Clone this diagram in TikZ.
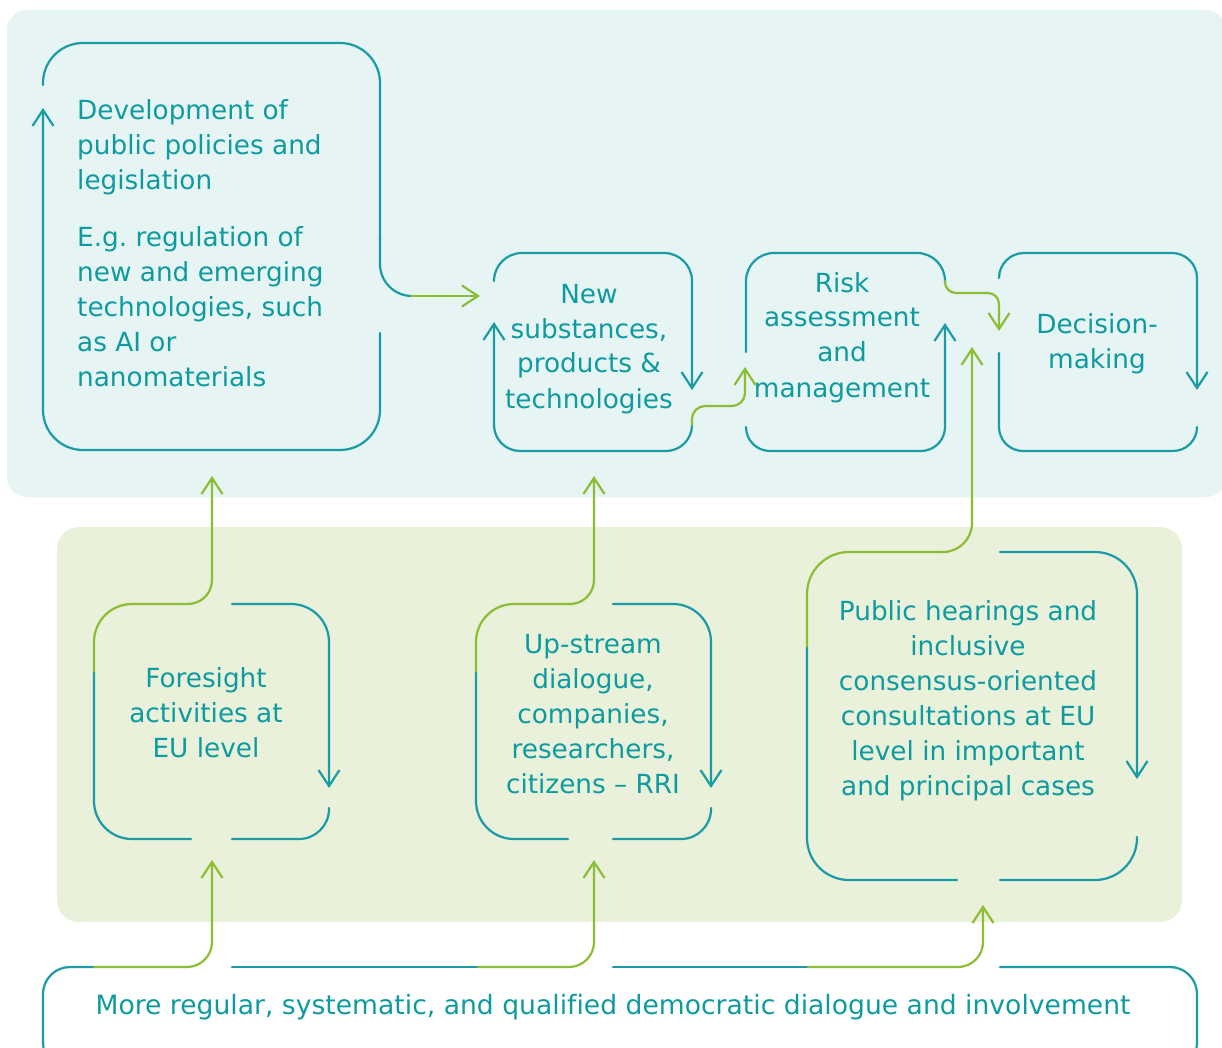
\documentclass[tikz,border=0pt]{standalone}
\usepackage{fontspec}
\setmainfont{DejaVu Sans}[Ligatures=NoCommon]
\usetikzlibrary{arrows.meta}
\definecolor{tl}{HTML}{1A9BA6}
\definecolor{tltext}{HTML}{0E9BA0}
\definecolor{gr}{HTML}{8BBE34}
\definecolor{bgblue}{HTML}{E6F4F4}
\definecolor{bggreen}{HTML}{E9F1DA}
\newcommand{\txtblock}[2]{\begin{tabular}[t]{@{}#1@{}}#2\end{tabular}}
\frenchspacing
\begin{document}
\begin{tikzpicture}[x=1pt,y=-1pt,
  ln/.style={line width=2.2pt, line cap=round},
  tealln/.style={ln, draw=tl},
  greenln/.style={ln, draw=gr},
  tip/.style={-{Straight Barb[length=16pt,width=21pt]}},
  txt/.style={text=tltext, font=\fontsize{26.3}{35}\selectfont, inner sep=0pt},
]
\useasboundingbox (0,0) rectangle (1222,1048);
\clip (0,0) rectangle (1222,1048);
\fill[white] (0,0) rectangle (1222,1048);
% backgrounds
\fill[bgblue, rounded corners=20pt] (7,10) rectangle (1226,497);
\fill[bggreen, rounded corners=22pt] (57,527) rectangle (1182,922);

% texts
\node[txt, anchor=base west] (dev) at (77,120) {\txtblock{l}{Development of\\public policies and\\legislation}};
\node[txt, anchor=base west] (eg) at (77,247) {\txtblock{l}{E.g. regulation of\\new and emerging\\technologies, such\\as AI or\\nanomaterials}};
\node[txt, anchor=base] (new) at (589,303) {\txtblock{c}{New\\substances,\\products \&\\technologies}};
\node[txt, anchor=base] (risk) at (842,292) {\txtblock{c}{Risk\\assessment\\and\\management}};
\node[txt, anchor=base] (dec) at (1097,333) {\txtblock{c}{Decision-\\making}};
\node[txt, anchor=base] (fore) at (206,687) {\txtblock{c}{Foresight\\activities at\\EU level}};
\node[txt, anchor=base] (up) at (593,653) {\txtblock{c}{Up-stream\\dialogue,\\companies,\\researchers,\\citizens – RRI}};
\node[txt, anchor=base] (pub) at (968,620) {\txtblock{c}{Public hearings and\\inclusive\\consensus-oriented\\consultations at EU\\level in important\\and principal cases}};
\node[txt, anchor=base, font=\fontsize{26.6}{32}\selectfont] (more) at (613,1014) {More regular, systematic, and qualified democratic dialogue and involvement};

% Box 1
\draw[tealln, rounded corners=40pt] (43,85) -- (43,43) -- (380,43) -- (380,240);
\draw[tealln, rounded corners=32pt] (380,238) -- (380,296) -- (412,296);
\draw[greenln, tip] (411,296) -- (480,296);
\draw[tealln, tip, rounded corners=40pt] (380,333) -- (380,450) -- (43,450) -- (43,108);

% Box 2
\draw[tealln, tip, rounded corners=28pt] (494,281) -- (494,253) -- (692,253) -- (692,390);
\draw[tealln, tip, rounded corners=26pt] (692,425) -- (692,451) -- (494,451) -- (494,322);
\draw[greenln, tip, rounded corners=13pt] (692,425) -- (692,406) -- (745,406) -- (745,367);

% Box 3
\draw[tealln, rounded corners=28pt] (746,352) -- (746,253) -- (945,253) -- (945,282);
\draw[greenln, tip, rounded corners=11pt] (945,281) -- (945,293) -- (999,293) -- (999,331);
\draw[tealln, tip, rounded corners=24pt] (746,427) -- (746,451) -- (945,451) -- (945,323);

% Box 4
\draw[tealln, tip, rounded corners=25pt] (999,278) -- (999,253) -- (1197,253) -- (1197,390);
\draw[tealln, rounded corners=24pt] (999,353) -- (999,451) -- (1197,451) -- (1197,427);

% Box 5
\draw[greenln, rounded corners=38pt] (94,673) -- (94,604) -- (190,604);
\draw[greenln, tip, rounded corners=24pt] (188,604) -- (212,604) -- (212,476);
\draw[tealln, tip, rounded corners=38pt] (232,604) -- (329,604) -- (329,788);
\draw[tealln, rounded corners=30pt] (329,808) -- (329,839) -- (232,839);
\draw[tealln, rounded corners=38pt] (191,839) -- (94,839) -- (94,673);

% Box 6
\draw[greenln, rounded corners=38pt] (476,673) -- (476,604) -- (572,604);
\draw[greenln, tip, rounded corners=24pt] (570,604) -- (594,604) -- (594,476);
\draw[tealln, tip, rounded corners=38pt] (613,604) -- (711,604) -- (711,788);
\draw[tealln, rounded corners=30pt] (711,808) -- (711,839) -- (613,839);
\draw[tealln, rounded corners=38pt] (568,839) -- (476,839) -- (476,673);

% Box 7
\draw[greenln, rounded corners=42pt] (807,648) -- (807,552) -- (944,552);
\draw[greenln, tip, rounded corners=29pt] (943,552) -- (972,552) -- (972,347);
\draw[tealln, tip, rounded corners=42pt] (1000,552) -- (1137,552) -- (1137,779);
\draw[tealln, rounded corners=42pt] (1137,837) -- (1137,880) -- (1000,880);
\draw[tealln, rounded corners=42pt] (957,880) -- (807,880) -- (807,648);

% Bottom bar
\draw[tealln, rounded corners=27pt] (94,967) -- (43,967) -- (43,1070) -- (1197,1070) -- (1197,967) -- (1000,967);
\draw[greenln, tip, rounded corners=25pt] (94,967) -- (212,967) -- (212,860);
\draw[tealln] (232,967) -- (478,967);
\draw[greenln, tip, rounded corners=25pt] (478,967) -- (594,967) -- (594,860);
\draw[tealln] (613,967) -- (808,967);
\draw[greenln, tip, rounded corners=25pt] (808,967) -- (983,967) -- (983,905);
\end{tikzpicture}
\end{document}
